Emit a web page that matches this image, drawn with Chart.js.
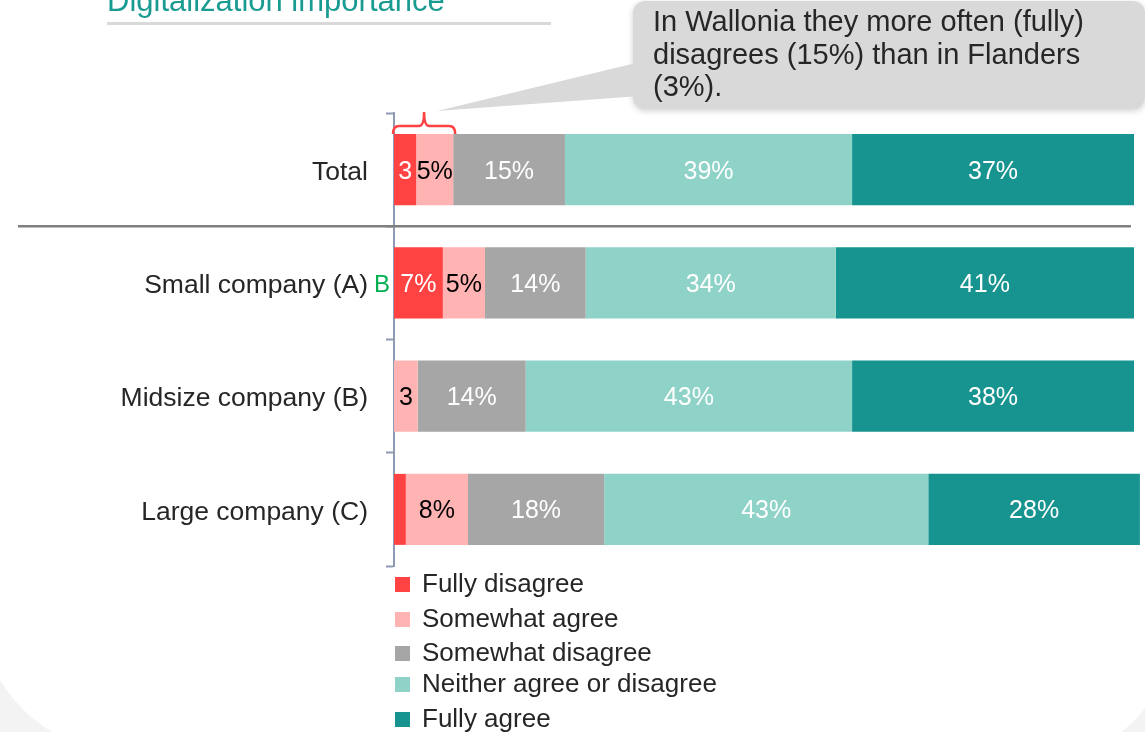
<!DOCTYPE html>
<html>
<head>
<meta charset="utf-8">
<script src="https://cdn.jsdelivr.net/npm/chart.js@4.4.0/dist/chart.umd.min.js"></script>
<style>
  html, body { margin: 0; padding: 0; background: #f3f3f3; overflow: hidden; }
  #panel { position: absolute; left: -20px; top: -20px; width: 1185px; height: 772px; background: #fff;
           border-bottom-left-radius: 146px; border-bottom-right-radius: 106px; }
  #wrap { position: absolute; left: 0; top: 0; width: 1145px; height: 732px; }
</style>
</head>
<body>
<div id="panel"></div>
<div id="wrap"><canvas id="chart" width="1145" height="732"></canvas></div>
<script>
const categories = ['Total', 'Small company (A)', 'Midsize company (B)', 'Large company (C)'];
const seriesNames = ['Fully disagree', 'Somewhat agree', 'Somewhat disagree', 'Neither agree or disagree', 'Fully agree'];

// bar lengths in %
const fullyDisagree = [3.0, 6.6, 0, 1.6];
const somewhatAgree = [5.0, 5.7, 3.2, 8.4];
const somewhatDisagree = [15.1, 13.6, 14.6, 18.4];
const neitherAgree = [38.8, 33.8, 44.1, 43.8];
const fullyAgree = [38.1, 40.3, 38.1, 28.6];

// labels as printed on the bars
const fullyDisagreeLabels = ['3', '7%', '', ''];
const somewhatAgreeLabels = ['5%', '5%', '3', '8%'];
const somewhatDisagreeLabels = ['15%', '14%', '14%', '18%'];
const neitherAgreeLabels = ['39%', '34%', '43%', '43%'];
const fullyAgreeLabels = ['37%', '41%', '38%', '28%'];

// significance letters next to the category names
const sigLetters = ['', 'B', '', ''];

const title = 'Digitalization importance';
const calloutLines = ['In Wallonia they more often (fully)', 'disagrees (15%) than in Flanders', '(3%).'];

const colors = ['#ff4343', '#ffb3b3', '#a6a6a6', '#8fd3c8', '#179490'];
const labelColors = ['#ffffff', '#000000', '#ffffff', '#ffffff', '#ffffff'];
const FONT = '"Liberation Sans", Arial, sans-serif';

const seriesValues = [fullyDisagree, somewhatAgree, somewhatDisagree, neitherAgree, fullyAgree];
const seriesLabels = [fullyDisagreeLabels, somewhatAgreeLabels, somewhatDisagreeLabels, neitherAgreeLabels, fullyAgreeLabels];

const barLabels = {
  id: 'barLabels',
  afterDatasetsDraw(chart) {
    const ctx = chart.ctx;
    ctx.save();
    ctx.font = '25px ' + FONT;
    ctx.textAlign = 'center';
    ctx.textBaseline = 'middle';
    chart.data.datasets.forEach((ds, i) => {
      chart.getDatasetMeta(i).data.forEach((bar, j) => {
        const t = ds.shownLabels[j];
        if (!t) return;
        ctx.fillStyle = labelColors[i];
        ctx.fillText(t, (bar.x + bar.base) / 2, bar.y + 2);
      });
    });
    ctx.restore();
  }
};

const extras = {
  id: 'extras',
  afterDraw(chart) {
    const ctx = chart.ctx;
    const y = chart.scales.y;
    ctx.save();

    // title + underline
    ctx.fillStyle = '#1a9b92';
    ctx.font = '31px ' + FONT;
    ctx.textAlign = 'left';
    ctx.textBaseline = 'alphabetic';
    ctx.fillText(title, 107, 11);
    ctx.fillStyle = '#d9d9d9';
    ctx.fillRect(107, 22, 444, 3);

    // separator under Total
    const sepY = (y.getPixelForTick(0) + y.getPixelForTick(1)) / 2;
    ctx.strokeStyle = '#7f7f7f';
    ctx.lineWidth = 2.5;
    ctx.beginPath();
    ctx.moveTo(18, sepY);
    ctx.lineTo(1131, sepY);
    ctx.stroke();

    // significance letters
    ctx.fillStyle = '#00b050';
    ctx.font = '24px ' + FONT;
    ctx.textAlign = 'center';
    ctx.textBaseline = 'middle';
    sigLetters.forEach((s, i) => {
      if (s) ctx.fillText(s, 382, y.getPixelForTick(i) + 2);
    });

    // bracket over the first two segments of Total
    const b0 = chart.getDatasetMeta(0).data[0];
    const b1 = chart.getDatasetMeta(1).data[0];
    const left = b0.base - 1, right = b1.x + 2, mid = (left + right) / 2;
    const top = b0.y - b0.height / 2;
    ctx.strokeStyle = '#ff4343';
    ctx.lineWidth = 2.5;
    ctx.beginPath();
    ctx.moveTo(left, top);
    ctx.quadraticCurveTo(left, top - 8, left + 6, top - 8);
    ctx.lineTo(mid - 5, top - 8);
    ctx.quadraticCurveTo(mid, top - 8, mid, top - 22);
    ctx.quadraticCurveTo(mid, top - 8, mid + 5, top - 8);
    ctx.lineTo(right - 6, top - 8);
    ctx.quadraticCurveTo(right, top - 8, right, top);
    ctx.stroke();

    // callout with pointer
    ctx.save();
    ctx.shadowColor = 'rgba(0,0,0,0.18)';
    ctx.shadowBlur = 6;
    ctx.shadowOffsetY = 2;
    ctx.fillStyle = '#d9d9d9';
    ctx.beginPath();
    ctx.roundRect(633, 1, 512, 108, 12);
    ctx.fill();
    ctx.restore();
    ctx.fillStyle = '#d9d9d9';
    ctx.beginPath();
    ctx.moveTo(640, 62);
    ctx.lineTo(mid + 13, top - 23);
    ctx.lineTo(640, 96);
    ctx.closePath();
    ctx.fill();
    ctx.fillStyle = '#262626';
    ctx.font = '29px ' + FONT;
    ctx.textAlign = 'left';
    ctx.textBaseline = 'middle';
    calloutLines.forEach((l, i) => ctx.fillText(l, 653, 23 + i * 32.5));

    // legend
    const legendY = [585, 620, 654, 685, 720];
    ctx.font = '26px ' + FONT;
    chart.data.datasets.forEach((ds, i) => {
      ctx.fillStyle = ds.backgroundColor;
      ctx.fillRect(395, legendY[i] - 8, 15, 15);
      ctx.fillStyle = '#262626';
      ctx.fillText(ds.label, 422, legendY[i]);
    });

    ctx.restore();
  }
};

const ctx = document.getElementById('chart');
new Chart(ctx, {
  type: 'bar',
  data: {
    labels: categories,
    datasets: seriesNames.map((name, i) => ({
      label: name,
      data: seriesValues[i],
      shownLabels: seriesLabels[i],
      backgroundColor: colors[i],
      borderWidth: 0,
      barPercentage: 0.627,
      categoryPercentage: 1,
      clip: false
    }))
  },
  options: {
    indexAxis: 'y',
    responsive: false,
    animation: false,
    layout: { padding: { top: 113, bottom: 166, right: 11, left: 0 } },
    plugins: { legend: { display: false }, tooltip: { enabled: false } },
    scales: {
      x: { stacked: true, display: false, min: 0, max: 100 },
      y: {
        stacked: true,
        afterFit: s => { s.width = 394; },
        grid: { display: true, drawOnChartArea: false, tickLength: 8, tickColor: '#8e9bb5', tickWidth: 2, offset: true },
        border: { display: true, color: '#8e9bb5', width: 2 },
        ticks: { color: '#262626', font: { family: FONT, size: 26.5 }, padding: 18, labelOffset: 3 }
      }
    }
  },
  plugins: [barLabels, extras]
});
</script>
</body>
</html>
